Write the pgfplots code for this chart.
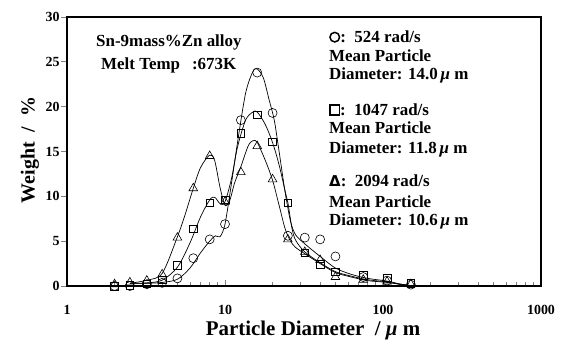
\documentclass[border=0pt]{standalone}
\usepackage{pgfplots}
\pgfplotsset{compat=1.18}
\usepackage{pgfplotstable}
\usepackage{fontspec}
\setmainfont{Liberation Serif}
\newfontfamily\symfont{DejaVu Sans}

\pgfplotstableread{
x y
2 0
2.5 0
3.2 0.2
4 0.35
5 0.85
6.3 3.1
8 5.2
10 6.9
12.6 18.5
16 23.8
20 19.3
25 5.6
32 5.4
40 5.2
50 3.3
75 1.0
106 0.6
150 0.15
}\circdata

\pgfplotstableread{
x y
2 0
2.5 0.05
3.2 0.25
4 0.7
5 2.3
6.3 6.4
8 9.3
10 9.6
12.6 17.0
16 19.1
20 16.1
25 9.3
32 3.7
40 2.4
50 1.6
75 1.2
106 0.9
150 0.3
}\sqdata

\pgfplotstableread{
x y
2 0.2
2.5 0.4
3.2 0.6
4 1.3
5 5.4
6.3 10.9
8 14.5
10 9.4
12.6 12.7
16 15.6
20 11.9
25 5.2
32 3.8
40 2.9
50 1.0
75 0.7
106 0.5
150 0.2
}\tridata

\pgfplotstableread{
x y
2.5 0.3
3.2 0.3
4 0.4
5 0.75
6 2.0
7 3.7
8 5.0
8.7 5.6
9.3 5.5
10 6.9
11 11.5
12 16.0
13.5 21.5
15 23.9
16 24.2
17.5 23.2
19 20.8
20.5 18.5
22 15.0
24 10.5
26 7.2
28 5.7
32 4.7
40 3.3
50 2.0
63 1.3
80 0.85
106 0.55
130 0.2
150 0.05
}\circfit

\pgfplotstableread{
x y
2.5 0.3
3.2 0.35
4 0.65
5 2.1
6 4.8
7 7.7
8 9.6
8.6 9.9
9.3 9.2
10 9.4
11 12.0
12 15.5
13.5 18.5
15 19.4
16 19.4
18 18.0
20 16.0
22 13.5
24 10.6
25 9.3
26.5 6.5
28 5.1
32 3.8
40 2.6
50 1.6
63 1.1
80 0.7
106 0.45
130 0.15
150 0.05
}\sqfit

\pgfplotstableread{
x y
2.5 0.3
3.2 0.65
4 1.4
5 5.5
5.6 8.0
6.3 10.9
7 13.2
8 14.6
8.6 14.0
9.3 11.0
10 9.0
10.7 9.5
11.5 11.5
12.6 13.3
14 15.6
15 16.2
16 16.0
18 14.0
20 11.8
22 9.0
24 6.4
26 5.0
28 4.3
32 3.6
40 2.5
50 1.5
63 1.0
80 0.6
106 0.4
150 0.05
}\trifit

\newcommand{\legcirc}{\tikz[baseline=0pt]\draw[line width=1.5bp] (5.2bp,5.6bp) circle (4.8bp);}
\newcommand{\legsq}{\tikz[baseline=0pt]\draw[line width=1.3bp] (0.7bp,0.7bp) rectangle (10.3bp,10.8bp);}

\begin{document}
\begin{tikzpicture}[x=1bp,y=1bp]
\useasboundingbox (-67,-63) rectangle (495,286);
\begin{axis}[
  at={(0,0)}, anchor=south west,
  scale only axis, width=474bp, height=269bp,
  xmode=log, xmin=1, xmax=1000, ymin=0, ymax=30,
  xtick={1,10,100,1000}, xticklabels={1,10,100,1000},
  ytick={0,5,10,15,20,25,30}, yticklabels={0,5,10,15,20,25,30},
  xtick pos=bottom, ytick pos=left,
  major tick length=6bp, minor tick length=4bp,
  ytick style={xshift=-6bp, line width=0.8bp},
  xtick style={line width=0.8bp},
  minor x tick style={line width=0.8bp},
  axis line style={line width=1.3bp},
  xticklabel style={font=\fontsize{14}{14}\selectfont\bfseries, yshift=-16bp},
  yticklabel style={font=\fontsize{14}{14}\selectfont\bfseries, xshift=-4bp},
  clip=false,
]
\addplot[smooth, line width=0.7bp, black] table {\circfit};
\addplot[smooth, line width=0.7bp, black] table {\sqfit};
\addplot[smooth, line width=0.7bp, black] table {\trifit};
\addplot[only marks, mark=o, mark size=4.5bp, mark options={fill=white, line width=0.6bp}] table {\circdata};
\addplot[only marks, mark=square, mark size=3.8bp, mark options={fill=white, line width=0.6bp}] table {\sqdata};
\addplot[only marks, mark=triangle, mark size=5bp, mark options={fill=white, line width=0.6bp}] table {\tridata};
\end{axis}
\draw[line width=2bp] (0,0) -- (474,0);
\begin{scope}[every node/.style={anchor=west, inner sep=0pt, font=\fontsize{17}{17}\selectfont\bfseries}]
\node at (29,244) {Sn-9mass\%Zn alloy};
\node at (34,221) {Melt Temp\hspace{12bp}:673K};
\node at (262,249) {\legcirc:\ \ 524 rad/s};
\node at (262,230) {Mean Particle};
\node at (262,211) {Diameter: 14.0\,\textit{μ} m};
\node at (262,176) {\legsq:\ \ 1047 rad/s};
\node at (262,158) {Mean Particle};
\node at (262,137) {Diameter: 11.8\,\textit{μ} m};
\node at (262,105) {{\symfont\bfseries\fontsize{15}{15}\selectfont Δ}:\ \ 2094 rad/s};
\node at (262,84) {Mean Particle};
\node at (262,65) {Diameter: 10.6\,\textit{μ} m};
\end{scope}
\node[font=\fontsize{21}{21}\selectfont\bfseries] at (246,-44) {Particle Diameter\ \ /\ \textit{μ} m};
\node[font=\fontsize{20}{20}\selectfont\bfseries, rotate=90] at (-37,136) {Weight\ \ /\ \ \%};
\end{tikzpicture}
\end{document}
